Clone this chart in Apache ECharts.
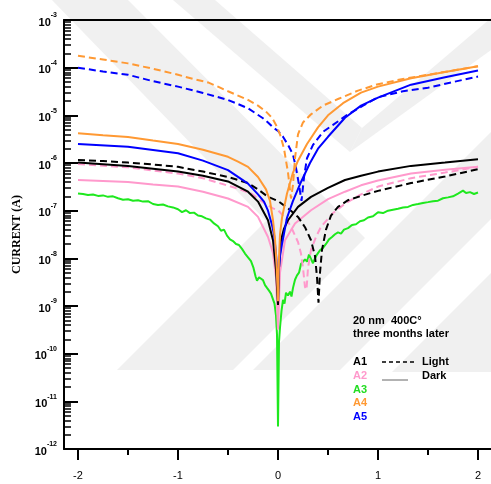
<!DOCTYPE html>
<html><head><meta charset="utf-8">
<script src="https://cdn.jsdelivr.net/npm/echarts@6.0.0/dist/echarts.min.js"></script>
<style>html,body{margin:0;padding:0;background:#fff}#c{width:491px;height:484px}</style>
</head><body><div id="c"></div>
<script>
// ---- data: bias voltage (V) and current (A) ----
const V_A4_light = [-2,-1.75,-1.5,-1.25,-1,-0.85,-0.7,-0.6,-0.5,-0.4,-0.3,-0.2,-0.12,-0.06,-0.02,0.02,0.06,0.1,0.13,0.15,0.17,0.2,0.25,0.33,0.45,0.6,0.8,1,1.25,1.5,1.75,2];
const I_A4_light = [1.78e-4,1.48e-4,1.23e-4,9.5e-5,7.1e-5,5.8e-5,4.9e-5,4.0e-5,3.2e-5,2.6e-5,2.1e-5,1.6e-5,1.2e-5,8.9e-6,6.3e-6,4.0e-6,2.0e-6,6.3e-7,1.8e-7,3.5e-7,1.26e-6,4.0e-6,7.1e-6,1.05e-5,1.6e-5,2.2e-5,3.3e-5,4.5e-5,5.8e-5,7.1e-5,8.7e-5,1.07e-4];

const V_A4_dark = [-2,-1.75,-1.5,-1.25,-1,-0.75,-0.5,-0.4,-0.3,-0.2,-0.12,-0.08,-0.05,-0.03,-0.015,0,0.01,0.02,0.04,0.09,0.15,0.2,0.29,0.4,0.5,0.65,0.83,1,1.33,1.67,2];
const I_A4_dark = [4.2e-6,3.8e-6,3.5e-6,2.95e-6,2.5e-6,1.9e-6,1.35e-6,1.07e-6,8.3e-7,5.1e-7,2.8e-7,1.6e-7,6.3e-8,2.5e-8,7.9e-9,1.26e-9,1.0e-8,3.2e-8,7.1e-8,2.3e-7,6.3e-7,1.12e-6,2.5e-6,5.6e-6,1.0e-5,1.8e-5,3.0e-5,4.0e-5,6.0e-5,8.1e-5,1.07e-4];

const V_A5_light = [-2,-1.75,-1.5,-1.25,-1,-0.75,-0.5,-0.3,-0.15,-0.1,-0.05,0,0.05,0.1,0.15,0.18,0.21,0.235,0.26,0.29,0.35,0.45,0.55,0.7,0.85,1,1.25,1.5,1.75,2];
const I_A5_light = [1.0e-4,8.3e-5,7.1e-5,5.2e-5,4.0e-5,2.95e-5,2.1e-5,1.41e-5,8.7e-6,7.1e-6,5.6e-6,4.7e-6,3.55e-6,2.4e-6,1.5e-6,7.9e-7,3.5e-7,1.6e-7,5.0e-7,1.26e-6,2.4e-6,4.5e-6,6.3e-6,1.05e-5,1.6e-5,2.4e-5,3.2e-5,3.8e-5,5.0e-5,6.5e-5];

const V_A5_dark = [-2,-1.5,-1,-0.75,-0.5,-0.3,-0.2,-0.14,-0.1,-0.06,-0.04,-0.02,-0.01,0,0.01,0.02,0.04,0.09,0.15,0.23,0.32,0.4,0.5,0.67,0.83,1,1.33,1.67,2];
const I_A5_dark = [2.5e-6,2.2e-6,1.6e-6,1.12e-6,7.1e-7,3.7e-7,2.2e-7,1.55e-7,1.0e-7,5.0e-8,3.2e-8,1.26e-8,6.3e-9,2.2e-9,6.3e-9,1.12e-8,2.0e-8,7.1e-8,1.6e-7,4.0e-7,1.0e-6,2.0e-6,3.55e-6,8.9e-6,1.6e-5,2.35e-5,4.4e-5,6.3e-5,8.7e-5];

const V_A1_light = [-2,-1.75,-1.5,-1.25,-1,-0.75,-0.5,-0.3,-0.2,-0.1,0,0.1,0.2,0.27,0.33,0.37,0.39,0.405,0.42,0.44,0.48,0.53,0.6,0.7,0.85,1,1.33,1.67,2];
const I_A1_light = [1.15e-6,1.1e-6,1.02e-6,9.3e-7,8.3e-7,6.6e-7,5.1e-7,3.8e-7,2.8e-7,1.95e-7,1.6e-7,1.12e-7,7.4e-8,4.5e-8,2.4e-8,1.12e-8,4.0e-9,1.17e-9,5.0e-9,1.5e-8,4.0e-8,7.9e-8,1.2e-7,1.66e-7,2.1e-7,2.6e-7,3.8e-7,5.2e-7,7.4e-7];

const V_A1_dark = [-2,-1.5,-1,-0.75,-0.5,-0.3,-0.2,-0.1,-0.05,-0.02,0,0.01,0.03,0.06,0.1,0.2,0.33,0.5,0.67,0.83,1,1.33,1.67,2];
const I_A1_dark = [1.02e-6,8.7e-7,6.6e-7,5.4e-7,4.1e-7,2.5e-7,1.55e-7,6.3e-8,2.4e-8,5.8e-9,1.05e-9,6.3e-9,2.4e-8,4.2e-8,6.3e-8,1.2e-7,1.95e-7,3.0e-7,4.4e-7,5.4e-7,6.6e-7,8.7e-7,1.02e-6,1.2e-6];

const V_A2_light = [-2,-1.5,-1,-0.75,-0.57,-0.4,-0.27,-0.14,-0.05,0,0.07,0.13,0.2,0.23,0.25,0.27,0.285,0.3,0.33,0.38,0.43,0.55,0.67,0.83,1,1.33,1.67,2];
const I_A2_light = [9.5e-7,8.1e-7,6.0e-7,4.8e-7,3.7e-7,2.9e-7,2.3e-7,1.45e-7,1.12e-7,1.02e-7,7.1e-8,4.6e-8,2.2e-8,1.26e-8,6.3e-9,2.5e-9,2.2e-9,6.3e-9,1.5e-8,2.8e-8,4.6e-8,8.9e-8,1.4e-7,2.2e-7,3.2e-7,4.8e-7,6.3e-7,8.3e-7];

const V_A2_dark = [-2,-1.75,-1.5,-1.25,-1,-0.75,-0.5,-0.3,-0.2,-0.1,-0.05,-0.02,0,0.02,0.07,0.17,0.33,0.5,0.67,0.83,1,1.33,1.67,2];
const I_A2_dark = [4.4e-7,4.2e-7,4.0e-7,3.55e-7,3.2e-7,2.5e-7,1.8e-7,1.2e-7,7.4e-8,2.8e-8,1.3e-8,4.0e-9,3.2e-10,5.0e-9,2.4e-8,5.4e-8,1.02e-7,1.74e-7,2.5e-7,3.4e-7,4.3e-7,6.0e-7,7.2e-7,8.3e-7];

const V_A3_dark = [-2,-1.95,-1.9,-1.85,-1.8,-1.75,-1.7,-1.65,-1.6,-1.55,-1.5,-1.45,-1.4,-1.35,-1.3,-1.25,-1.2,-1.15,-1.1,-1.05,-1,-0.96,-0.92,-0.88,-0.84,-0.8,-0.76,-0.72,-0.68,-0.64,-0.6,-0.57,-0.54,-0.51,-0.48,-0.45,-0.42,-0.39,-0.36,-0.33,-0.3,-0.27,-0.245,-0.225,-0.21,-0.19,-0.17,-0.15,-0.13,-0.11,-0.09,-0.07,-0.05,-0.035,-0.02,-0.01,0,0.01,0.02,0.035,0.05,0.065,0.08,0.1,0.12,0.135,0.15,0.17,0.19,0.21,0.23,0.25,0.27,0.29,0.31,0.33,0.35,0.37,0.39,0.42,0.45,0.48,0.51,0.54,0.57,0.6,0.63,0.66,0.7,0.74,0.78,0.82,0.86,0.9,0.95,1,1.05,1.1,1.15,1.2,1.25,1.3,1.35,1.4,1.45,1.5,1.55,1.6,1.65,1.7,1.75,1.8,1.85,1.88,1.92,1.96,2];
const I_A3_dark = [2.29e-7,2.24e-7,2.14e-7,2.19e-7,2.04e-7,2.09e-7,1.95e-7,2.0e-7,1.82e-7,1.7e-7,1.74e-7,1.62e-7,1.66e-7,1.55e-7,1.58e-7,1.38e-7,1.32e-7,1.35e-7,1.23e-7,1.17e-7,1.07e-7,9.3e-8,1.02e-7,8.9e-8,9.1e-8,7.9e-8,7.6e-8,6.9e-8,6.5e-8,5.4e-8,4.7e-8,3.8e-8,4.0e-8,3.0e-8,2.5e-8,2.3e-8,2.0e-8,1.9e-8,1.58e-8,1.26e-8,1.05e-8,8.7e-9,6.3e-9,4.2e-9,3.4e-9,4.0e-9,4.4e-9,3.5e-9,2.75e-9,2.4e-9,2.1e-9,1.82e-9,1.38e-9,1.12e-9,6.3e-10,2.5e-10,2.95e-12,1.78e-10,3.55e-10,7.9e-10,1.35e-9,1.12e-9,1.9e-9,1.66e-9,2.0e-9,1.58e-9,2.4e-9,3.55e-9,4.4e-9,5.0e-9,7.6e-9,8.3e-9,9.5e-9,8.5e-9,1.2e-8,1.26e-8,7.9e-9,1.0e-8,1.2e-8,1.48e-8,1.66e-8,2.0e-8,2.5e-8,2.8e-8,3.2e-8,3.5e-8,3.3e-8,4.0e-8,4.3e-8,5.0e-8,5.2e-8,6.0e-8,6.3e-8,7.2e-8,7.6e-8,9.3e-8,8.9e-8,1.0e-7,1.05e-7,1.1e-7,1.17e-7,1.2e-7,1.32e-7,1.38e-7,1.45e-7,1.51e-7,1.58e-7,1.62e-7,1.82e-7,1.9e-7,2.0e-7,2.29e-7,2.63e-7,2.34e-7,2.45e-7,2.24e-7,2.4e-7];

const X_MAJOR = [-2,-1,0,1,2];
const X_MINOR = [-1.5,-0.5,0.5,1.5];
const SAMPLES = ['A1','A2','A3','A4','A5'];

// ---- styling ----
const COL = {A1:'#000000', A2:'#ff99cc', A3:'#1ee81e', A4:'#ff9933', A5:'#0000ff'};
const LEG_COL = {A1:'#000000', A2:'#ff99cc', A3:'#22dd22', A4:'#ff9933', A5:'#0000ff'};
const SANS = '"Liberation Sans", Arial, sans-serif';

function mk(name, V, I, color, dashed) {
  return {
    name, type:'line', data: V.map((v,i)=>[v, I[i]]), showSymbol:false, symbol:'none',
    xAxisIndex:0, yAxisIndex:0, clip:true, animation:false,
    lineStyle:{color, width:2, type: dashed ? [7,4] : 'solid'}
  };
}

const minorY = [];
for (let n=-12; n<-3; n++) for (let k=2; k<=9; k++) minorY.push(n + Math.log10(k));

const series = [
  mk('A3 dark', V_A3_dark, I_A3_dark, COL.A3, false),
  mk('A2 dark', V_A2_dark, I_A2_dark, COL.A2, false),
  mk('A2 light', V_A2_light, I_A2_light, COL.A2, true),
  mk('A1 dark', V_A1_dark, I_A1_dark, COL.A1, false),
  mk('A1 light', V_A1_light, I_A1_light, COL.A1, true),
  mk('A5 light', V_A5_light, I_A5_light, COL.A5, true),
  mk('A4 light', V_A4_light, I_A4_light, COL.A4, true),
  mk('A5 dark', V_A5_dark, I_A5_dark, COL.A5, false),
  mk('A4 dark', V_A4_dark, I_A4_dark, COL.A4, false)
];

// faint background watermark bands
const WM = '#f0f0f0';
const graphic = [
  {type:'polygon', z:-10, shape:{points:[[52,0],[128,0],[365,238],[233,370],[117,370],[266,221]]}, style:{fill:WM}},
  {type:'polygon', z:-10, shape:{points:[[173,0],[215,0],[362,128],[350,152]]}, style:{fill:WM}},
  {type:'polygon', z:-10, shape:{points:[[350,152],[362,128],[491,18],[491,50]]}, style:{fill:WM}},
  {type:'polygon', z:-10, shape:{points:[[253,370],[340,370],[491,219],[491,132]]}, style:{fill:WM}},
  {type:'polygon', z:-10, shape:{points:[[392,372],[491,372],[491,273]]}, style:{fill:WM}},
  {type:'text', x:353, y:321, style:{text:'20 nm  400C°', font:'bold 11px '+SANS, fill:'#000', verticalAlign:'middle'}},
  {type:'text', x:353, y:334, style:{text:'three months later', font:'bold 11px '+SANS, fill:'#000', verticalAlign:'middle'}},
  {type:'line', shape:{x1:382,y1:362,x2:415,y2:362}, style:{stroke:'#000', lineWidth:1.5, lineDash:[4,3]}},
  {type:'line', shape:{x1:382,y1:380,x2:408,y2:380}, style:{stroke:'#666', lineWidth:1}},
  {type:'text', x:422, y:362, style:{text:'Light', font:'bold 11px '+SANS, fill:'#000', verticalAlign:'middle'}},
  {type:'text', x:422, y:376, style:{text:'Dark', font:'bold 11px '+SANS, fill:'#000', verticalAlign:'middle'}}
];
const legY = [362,376,390,403,417];
SAMPLES.forEach((s,i)=>graphic.push({type:'text', x:353, y:legY[i], style:{text:s, font:'bold 11px '+SANS, fill:LEG_COL[s], verticalAlign:'middle'}}));

const chart = echarts.init(document.getElementById('c'), null, {renderer:'canvas'});
chart.setOption({
  animation:false,
  backgroundColor:'#fff',
  grid:{left:64, right:0, top:20, bottom:35},
  xAxis:[
    {type:'value', min:-2.14, max:2.13, position:'bottom',
     axisLine:{show:true, onZero:false, lineStyle:{color:'#000', width:2}},
     axisTick:{show:true, customValues:X_MAJOR, length:11, lineStyle:{color:'#000', width:2}},
     axisLabel:{show:true, customValues:X_MAJOR, margin:21, fontSize:11, color:'#000', fontFamily:SANS},
     splitLine:{show:false}},
    {type:'value', min:-2.14, max:2.13, position:'bottom',
     axisLine:{show:false, onZero:false},
     axisTick:{show:true, customValues:X_MINOR, length:6, lineStyle:{color:'#000', width:2}},
     axisLabel:{show:false}, splitLine:{show:false}},
    {type:'value', min:-2.14, max:2.13, position:'top',
     axisLine:{show:true, onZero:false, lineStyle:{color:'#000', width:2}},
     axisTick:{show:false}, axisLabel:{show:false}, splitLine:{show:false}}
  ],
  yAxis:[
    {type:'log', logBase:10, min:1e-12, max:1e-3, interval:1, position:'left',
     name:'CURRENT (A)', nameLocation:'middle', nameGap:41,
     nameTextStyle:{fontFamily:'"Liberation Serif", "Times New Roman", serif', fontWeight:'bold', fontSize:12, color:'#000'},
     axisLine:{show:true, onZero:false, lineStyle:{color:'#000', width:2}},
     axisTick:{show:true, inside:true, length:14, lineStyle:{color:'#000', width:2}},
     axisLabel:{show:true, margin:7, formatter:v=>'{a|10}{b|'+Math.round(Math.log10(v))+'}',
       rich:{a:{fontSize:11, fontWeight:'bold', fontFamily:SANS, color:'#000', lineHeight:16, verticalAlign:'bottom'},
             b:{fontSize:7, fontWeight:'bold', fontFamily:SANS, color:'#000', lineHeight:16, verticalAlign:'top'}}},
     splitLine:{show:false}},
    {type:'value', min:-12, max:-3, position:'left',
     axisLine:{show:false, onZero:false},
     axisTick:{show:true, inside:true, length:7, customValues:minorY, lineStyle:{color:'#000', width:1.5}},
     axisLabel:{show:false}, splitLine:{show:false}}
  ],
  graphic,
  series
});
</script></body></html>
